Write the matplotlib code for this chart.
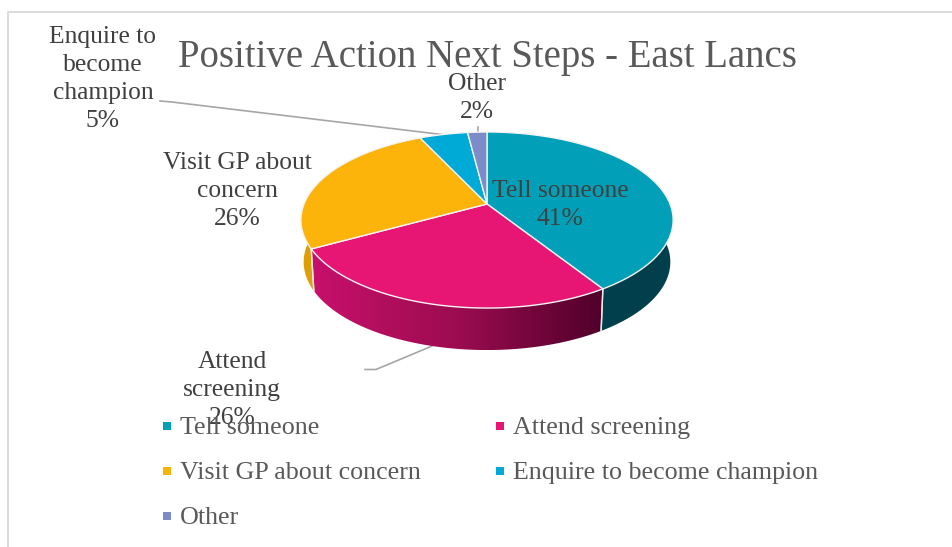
import numpy as np
import matplotlib
matplotlib.use("Agg")
import matplotlib.pyplot as plt
from matplotlib.patches import Polygon

plt.rcParams['font.family'] = ['Liberation Serif', 'DejaVu Serif']

title = "Positive Action Next Steps - East Lancs"
categories = ["Tell someone", "Attend screening", "Visit GP about concern", "Enquire to become champion", "Other"]
values = [41, 26, 26, 5, 2]
colors = ["#02a0b8", "#e71675", "#fcb30a", "#00aad6", "#7b8cc9"]
label_text = ["Tell someone", "Attend\nscreening", "Visit GP about\nconcern", "Enquire to\nbecome\nchampion", "Other"]
label_pos = [(560, 205), (232, 390), (237, 191), (103, 79), (477, 98)]
legend_pos = [(167, 426), (500, 426), (167, 471), (500, 471), (167, 516)]

# pie geometry in pixels, tilted circle seen with some perspective
cx, cy = 487, 204
a, b, k = 183, 85.1, -0.182
depth = 42


def rim(theta, drop=0.0):
    u, v = np.sin(theta), np.cos(theta)
    d = 1 - k * v
    scale = 1 - 0.015 * drop / depth
    return cx + scale * a * u / d, cy - b * v / d + drop


fig = plt.figure(figsize=(9.53, 5.47), dpi=100)
ax = fig.add_axes([0, 0, 1, 1])
ax.set_xlim(0, 953)
ax.set_ylim(547, 0)
ax.axis("off")

# chart border, only top and left are in the crop
ax.plot([8, 8, 953], [547, 11.5, 11.5], color="#d9d9d9", lw=1.3, zorder=1)

edges = np.cumsum([0] + values) / sum(values) * 2 * np.pi

# side walls first
right_side = np.arctan2(a, -k * a) + 0.0
wall_ranges = [(right_side, edges[1]), (edges[1], edges[2]), (edges[2], 2 * np.pi - right_side)]
wall_colors = ["#003f4b", None, "#dc9f06"]
for (t0, t1), wc in zip(wall_ranges, wall_colors):
    t = np.linspace(t0, t1, 120)
    x0, y0 = rim(t)
    x1, y1 = rim(t[::-1], depth)
    pts = np.column_stack([np.r_[x0, x1], np.r_[y0, y1]])
    if wc is None:
        poly = Polygon(pts, closed=True, facecolor="none", edgecolor="none", zorder=2)
        ax.add_patch(poly)
        cmap = matplotlib.colors.LinearSegmentedColormap.from_list("side", ["#c8106c", "#9c0c50", "#50002a"])
        im = ax.imshow(np.linspace(0, 1, 256).reshape(1, -1), cmap=cmap, aspect="auto",
                       extent=[x0.min(), x0.max(), y1.max(), y0.min()], zorder=2)
        im.set_clip_path(poly)
        ax.set_xlim(0, 953)
        ax.set_ylim(547, 0)
    else:
        ax.add_patch(Polygon(pts, closed=True, facecolor=wc, edgecolor="none", zorder=2))
    # pale seams on the wall
    for tt in (t0, t1):
        if abs(tt - edges[1]) < 1e-6 or abs(tt - edges[2]) < 1e-6:
            xa, ya = rim(tt)
            xb, yb = rim(tt, depth)
            ax.plot([xa, xb], [ya, yb], color="#e8e8e8", lw=1, zorder=3)

# top face
for i, c in enumerate(colors):
    t = np.linspace(edges[i], edges[i + 1], 150)
    x, y = rim(t)
    pts = np.column_stack([np.r_[cx, x], np.r_[cy, y]])
    ax.add_patch(Polygon(pts, closed=True, facecolor=c, edgecolor="#f4f4f4", lw=1, joinstyle="round", zorder=4))

# leader lines
leader = "#a6a6a6"
ax.plot([160, 172, 446], [101, 102, 135], color=leader, lw=1.2, zorder=3)
ax.plot([478.5, 478.5], [127, 133], color=leader, lw=1.2, zorder=3)
ax.plot([365, 376, 432], [369.5, 369.5, 346], color=leader, lw=1.2, zorder=1.5)

ax.text(487, 58, title, fontsize=27.9, color="#595959", ha="center", va="center", zorder=6)

# data labels
for name, v, (lx, ly) in zip(label_text, values, label_pos):
    ax.text(lx, ly, name + "\n" + str(v) + "%", fontsize=18.4, color="#404040", ha="center",
            va="center", linespacing=1.36, zorder=6)

# legend
for name, c, (lx, ly) in zip(categories, colors, legend_pos):
    ax.scatter([lx], [ly], marker="s", s=33, color=c, linewidths=0, zorder=6)
    ax.text(lx + 13, ly + 2, name, fontsize=18.7, color="#595959", ha="left", va="center", zorder=7)

fig.savefig("out.png", dpi=100)
